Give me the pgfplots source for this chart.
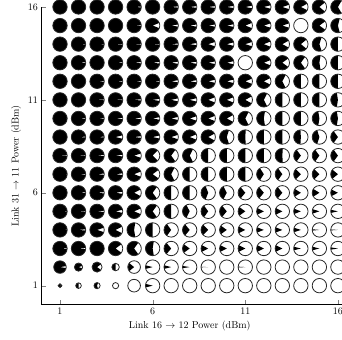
\documentclass[border=0pt]{standalone}
\usepackage{pgfplots}
\usepackage{pgfplotstable}
\pgfplotsset{compat=1.18}
\pgfplotstableread{
x y p s
1 16 0 1
2 16 0 1
3 16 0 1
4 16 0 1
5 16 0.02 1
6 16 0.01 1
7 16 0.03 1
8 16 0.04 1
9 16 0.04 1
10 16 0.05 1
11 16 0.06 1
12 16 0.08 1
13 16 0.1 1
14 16 0.15 1
15 16 0.22 1
16 16 0.33 1
1 15 0 1
2 15 0 1
3 15 0 1
4 15 0 1
5 15 0.02 1
6 15 0.12 1
7 15 0.05 1
8 15 0.05 1
9 15 0.05 1
10 15 0.06 1
11 15 0.12 1
12 15 0.1 1
13 15 0.1 1
14 15 1 1
15 15 0.2 1
16 15 0.42 1
1 14 0 1
2 14 0.01 1
3 14 0.01 1
4 14 0.02 1
5 14 0.02 1
6 14 0.02 1
7 14 0.03 1
8 14 0.05 1
9 14 0.1 1
10 14 0.08 1
11 14 0.1 1
12 14 0.12 1
13 14 0.16 1
14 14 0.22 1
15 14 0.4 1
16 14 0.5 1
1 13 0 1
2 13 0.02 1
3 13 0 1
4 13 0.02 1
5 13 0.03 1
6 13 0.04 1
7 13 0.05 1
8 13 0.05 1
9 13 0.06 1
10 13 0.07 1
11 13 1 1
12 13 0.12 1
13 13 0.2 1
14 13 0.3 1
15 13 0.45 1
16 13 0.5 1
1 12 0 1
2 12 0 1
3 12 0.02 1
4 12 0.02 1
5 12 0.02 1
6 12 0.02 1
7 12 0.05 1
8 12 0.05 1
9 12 0.07 1
10 12 0.08 1
11 12 0.12 1
12 12 0.15 1
13 12 0.35 1
14 12 0.5 1
15 12 0.5 1
16 12 0.5 1
1 11 0 1
2 11 0 1
3 11 0.02 1
4 11 0.02 1
5 11 0.03 1
6 11 0.05 1
7 11 0.07 1
8 11 0.08 1
9 11 0.12 1
10 11 0.12 1
11 11 0.16 1
12 11 0.35 1
13 11 0.5 1
14 11 0.5 1
15 11 0.5 1
16 11 0.55 1
1 10 0.01 1
2 10 0.02 1
3 10 0.02 1
4 10 0.03 1
5 10 0.04 1
6 10 0.06 1
7 10 0.07 1
8 10 0.1 1
9 10 0.12 1
10 10 0.16 1
11 10 0.35 1
12 10 0.45 1
13 10 0.5 1
14 10 0.5 1
15 10 0.55 1
16 10 0.55 1
1 9 0 1
2 9 0.02 1
3 9 0.02 1
4 9 0.08 1
5 9 0.04 1
6 9 0.07 1
7 9 0.1 1
8 9 0.12 1
9 9 0.16 1
10 9 0.4 1
11 9 0.48 1
12 9 0.5 1
13 9 0.5 1
14 9 0.52 1
15 9 0.6 1
16 9 0.7 1
1 8 0.02 1
2 8 0.02 1
3 8 0.03 1
4 8 0.04 1
5 8 0.1 1
6 8 0.25 1
7 8 0.3 1
8 8 0.35 1
9 8 0.5 1
10 8 0.5 1
11 8 0.5 1
12 8 0.5 1
13 8 0.48 1
14 8 0.7 1
15 8 0.7 1
16 8 0.7 1
1 7 0.01 1
2 7 0.02 1
3 7 0.03 1
4 7 0.04 1
5 7 0.12 1
6 7 0.2 1
7 7 0.35 1
8 7 0.5 1
9 7 0.5 1
10 7 0.5 1
11 7 0.5 1
12 7 0.68 1
13 7 0.7 1
14 7 0.75 1
15 7 0.75 1
16 7 0.78 1
1 6 0.01 1
2 6 0.02 1
3 6 0.03 1
4 6 0.05 1
5 6 0.15 1
6 6 0.3 1
7 6 0.5 1
8 6 0.5 1
9 6 0.62 1
10 6 0.65 1
11 6 0.72 1
12 6 0.72 1
13 6 0.72 1
14 6 0.82 1
15 6 0.82 1
16 6 0.85 1
1 5 0.01 1
2 5 0.02 1
3 5 0.03 1
4 5 0.07 1
5 5 0.13 1
6 5 0.3 1
7 5 0.5 1
8 5 0.65 1
9 5 0.7 1
10 5 0.72 1
11 5 0.8 1
12 5 0.85 1
13 5 0.85 1
14 5 0.88 1
15 5 0.9 1
16 5 0.93 1
1 4 0.01 1
2 4 0.03 1
3 4 0.1 1
4 4 0.15 1
5 4 0.45 1
6 4 0.5 1
7 4 0.7 1
8 4 0.72 1
9 4 0.75 1
10 4 0.8 1
11 4 0.85 1
12 4 0.88 1
13 4 0.88 1
14 4 0.9 1
15 4 0.97 1
16 4 0.98 1
1 3 0.02 1
2 3 0.03 1
3 3 0 1
4 3 0.2 1
5 3 0.3 1
6 3 0.45 1
7 3 0.72 1
8 3 0.8 1
9 3 0.85 1
10 3 0.85 1
11 3 0.85 1
12 3 0.85 1
13 3 0.85 1
14 3 0.92 1
15 3 0.92 1
16 3 0.95 1
1 2 0.05 0.87
2 2 0.1 0.57
3 2 0.2 0.7
4 2 0.5 0.52
5 2 0.78 0.88
6 2 0.92 1
7 2 0.92 1
8 2 0.95 1
9 2 0.99 1
10 2 1 1
11 2 0.98 1
12 2 1 1
13 2 1 1
14 2 1 1
15 2 1 1
16 2 1 1
1 1 0.1 0.26
2 1 0.5 0.39
3 1 0.4 0.43
4 1 1 0.43
5 1 1 0.88
6 1 0.92 1
7 1 1 1
8 1 1 1
9 1 1 1
10 1 1 1
11 1 1 1
12 1 1 1
13 1 1 1
14 1 1 1
15 1 1 1
16 1 1 1
}\griddata
\begin{document}
\begin{tikzpicture}
\begin{axis}[
  x=18.55pt, y=18.6pt,
  xmin=0, xmax=16.25, ymin=0, ymax=16,
  axis x line*=bottom, axis y line*=left,
  xtick={1,6,11,16}, ytick={1,6,11,16},
  xlabel={Link 16 $\rightarrow$ 12 Power (dBm)},
  ylabel={Link 31 $\rightarrow$ 11 Power (dBm)},
  xlabel style={at={(ticklabel cs:0.4923)}},
  ylabel style={at={(ticklabel cs:0.465)}},
]
\addplot[
  scatter, only marks, mark=o,
  mark options={draw=black!85, line width=0.8pt},
  visualization depends on={\thisrow{p} \as \pwhite},
  visualization depends on={\thisrow{s} \as \psize},
  scatter/@pre marker code/.code={%
    \pgfmathsetmacro\myr{7.2*\psize}%
    \pgfmathsetmacro\mya{180*\pwhite}%
    \pgfmathsetmacro\myb{360-\mya}%
    \pgfmathtruncatemacro\isfull{\pwhite>0.995 ? 1 : 0}%
    \pgfscope
    \ifnum\isfull=0
      \pgfpathmoveto{\pgfpointorigin}%
      \pgfpathlineto{\pgfpointpolar{\mya}{\myr pt}}%
      \pgfpatharc{\mya}{\myb}{\myr pt}%
      \pgfpathclose
      \pgfsetfillcolor{black}%
      \pgfusepath{fill}%
    \fi
    \pgfsetplotmarksize{\myr pt}%
  },
  scatter/@post marker code/.code={\endpgfscope},
] table[x=x, y=y] {\griddata};
\coordinate (BL) at (axis cs:-2.238,-1.903);
\coordinate (TR) at (axis cs:16.22,16.376);
\end{axis}
\pgfresetboundingbox
\useasboundingbox (BL) rectangle (TR);
\end{tikzpicture}
\end{document}
